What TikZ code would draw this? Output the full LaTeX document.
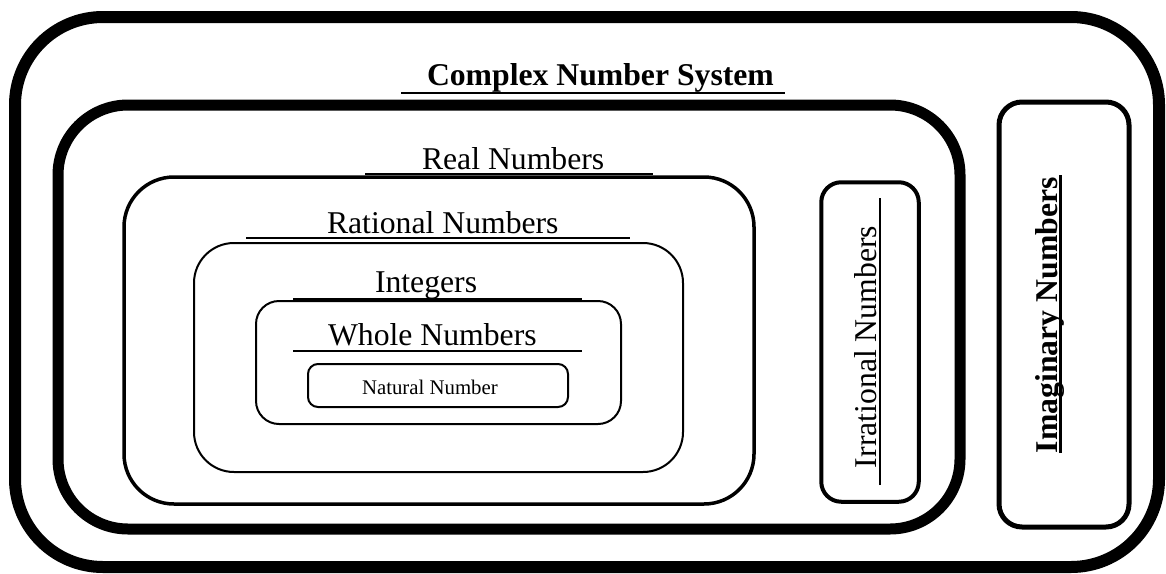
\documentclass[tikz,border=0pt]{standalone}
\usepackage{fontspec}
\setmainfont{Liberation Serif}
\begin{document}
\begin{tikzpicture}[x=1pt,y=-1pt,
  setbox/.style={draw=black, fill=none, inner sep=0pt, outer sep=0pt},
  lbl/.style={inner sep=0pt, outer sep=0pt, anchor=base west, font=\fontsize{31.7}{36}\selectfont},
  ul/.style={line width=2pt}
]
\useasboundingbox (0,0) rectangle (1166,573);
% boxes
\node[setbox, line width=12pt, rounded corners=88pt, minimum width=1144pt, minimum height=550pt] (outer) at (587,292) {};
\node[setbox, line width=11pt, rounded corners=70pt, minimum width=902pt, minimum height=424pt] (real) at (509,317) {};
\node[setbox, line width=3.5pt, rounded corners=50pt, minimum width=630pt, minimum height=327pt] (rational) at (439,340.5) {};
\node[setbox, line width=2pt, rounded corners=40pt, minimum width=489pt, minimum height=229pt] (integers) at (438.5,357.5) {};
\node[setbox, line width=2pt, rounded corners=23pt, minimum width=365pt, minimum height=123pt] (whole) at (438.5,362.5) {};
\node[setbox, line width=2pt, rounded corners=10pt, minimum width=260pt, minimum height=43pt] (natural) at (438,385.5) {};
\node[setbox, line width=4pt, rounded corners=20pt, minimum width=97.5pt, minimum height=319.5pt] (irrational) at (870,342) {};
\node[setbox, line width=5pt, rounded corners=23pt, minimum width=130pt, minimum height=425pt] (imaginary) at (1064,314.5) {};
% labels
\node[lbl, font=\fontsize{31.7}{36}\selectfont\bfseries] (tcomplex) at (427,85) {Complex Number System};
\node[lbl] (treal) at (422,169) {Real Numbers};
\node[lbl] (trational) at (327,233) {Rational Numbers};
\node[lbl] (tintegers) at (375,292) {Integers};
\node[lbl] (twhole) at (328,345) {Whole Numbers};
\node[lbl, font=\fontsize{20.8}{24}\selectfont] (tnatural) at (362,394) {Natural Number};
\node[lbl, rotate=90] (tirrational) at (876,468) {Irrational Numbers};
\node[lbl, rotate=90, font=\fontsize{31.7}{36}\selectfont\bfseries] (timaginary) at (1057,453) {Imaginary Numbers};
% underlines
\coordinate (c1) at (401,93); \coordinate (c2) at (785,93);
\draw[ul, line width=2.5pt] (c1) -- (c2);
\coordinate (r1) at (365,173.5); \coordinate (r2) at (653,173.5);
\draw[ul] (r1) -- (r2);
\coordinate (q1) at (246,238); \coordinate (q2) at (630,238);
\draw[ul] (q1) -- (q2);
\coordinate (i1) at (293,298.5); \coordinate (i2) at (582,298.5);
\draw[ul] (i1) -- (i2);
\coordinate (w1) at (293,351); \coordinate (w2) at (582,351);
\draw[ul] (w1) -- (w2);
\coordinate (ir1) at (880,485); \coordinate (ir2) at (880,198);
\draw[ul] (ir1) -- (ir2);
\coordinate (im1) at (1060,453); \coordinate (im2) at (1060,175);
\draw[ul, line width=3pt] (im1) -- (im2);
\end{tikzpicture}
\end{document}
